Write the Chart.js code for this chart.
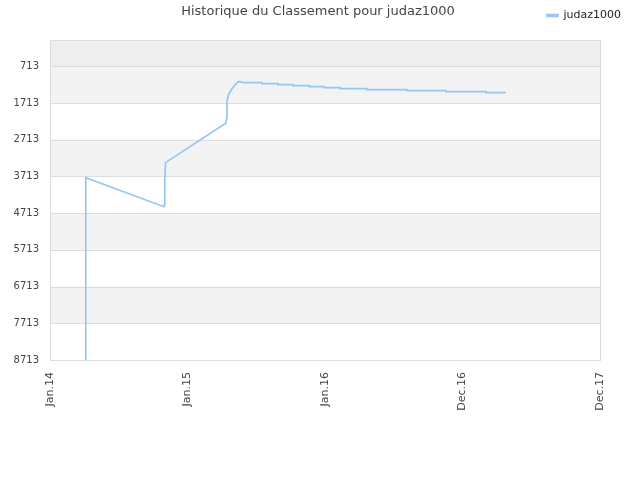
<!DOCTYPE html>
<html>
<head>
<meta charset="utf-8">
<script src="https://cdn.jsdelivr.net/npm/chart.js@4.4.0/dist/chart.umd.min.js"></script>
<style>
  html, body { margin: 0; padding: 0; background: #fff; }
  #wrap { width: 640px; height: 480px; }
</style>
</head>
<body>
<div id="wrap"><canvas id="grafico" width="640" height="480"></canvas></div>
<script>
// Datos del gráfico
var titre = 'Historique du Classement pour judaz1000';
var joueur = 'judaz1000';
var etiquettesX = ['Jan.14', 'Jan.15', 'Jan.16', 'Dec.16', 'Dec.17'];
var ticksY = [713, 1713, 2713, 3713, 4713, 5713, 6713, 7713, 8713];

// position sur l'axe des dates (0 = Jan.14, 1 = Jan.15, ...)
var dates = [0.26, 0.26, 0.829, 0.832, 0.835, 0.84, 1.278, 1.285, 1.287, 1.297, 1.321, 1.345, 1.37, 1.39,
    1.404, 1.542, 1.542, 1.658, 1.658, 1.767, 1.767, 1.884, 1.884, 1.993, 1.993, 2.109,
    2.109, 2.305, 2.305, 2.596, 2.596, 2.88, 2.88, 3.171, 3.171, 3.316];
var classement = [8713, 3748, 4539, 4480, 3800, 3339, 2266, 2130, 1677, 1495, 1340, 1222, 1133, 1140,
    1160, 1160, 1187, 1187, 1214, 1214, 1242, 1242, 1269, 1269, 1296, 1296,
    1323, 1323, 1351, 1351, 1378, 1378, 1405, 1405, 1432, 1432];

var points = dates.map(function(d, i) { return { x: d, y: classement[i] }; });

// fond en bandes + cadre
var bandes = {
    id: 'bandes',
    beforeDatasetsDraw: function(chart) {
        var ctx = chart.ctx, a = chart.chartArea, y = chart.scales.y;
        ctx.save();
        ctx.fillStyle = '#eeeeee';
        ctx.fillRect(a.left, a.top, a.right - a.left, y.getPixelForValue(ticksY[0]) - a.top);
        for (var i = 0; i < ticksY.length - 1; i++) {
            if (i % 2 === 0) {
                var y1 = y.getPixelForValue(ticksY[i]), y2 = y.getPixelForValue(ticksY[i + 1]);
                ctx.fillStyle = '#f3f3f3';
                ctx.fillRect(a.left, y1, a.right - a.left, y2 - y1);
            }
        }
        ctx.strokeStyle = '#dddddd';
        ctx.lineWidth = 1;
        for (var j = 0; j < ticksY.length; j++) {
            var py = Math.round(y.getPixelForValue(ticksY[j])) + 0.5;
            ctx.beginPath(); ctx.moveTo(a.left, py); ctx.lineTo(a.right, py); ctx.stroke();
        }
        ctx.strokeRect(Math.round(a.left) + 0.5, Math.round(a.top) + 0.5,
            Math.round(a.right - a.left), Math.round(a.bottom - a.top));
        ctx.restore();
    },
    afterDraw: function(chart) {
        var ctx = chart.ctx;
        ctx.save();
        ctx.font = '13px "DejaVu Sans"';
        ctx.fillStyle = '#444';
        ctx.textAlign = 'center';
        ctx.textBaseline = 'middle';
        ctx.fillText(titre, 318, 12);
        ctx.restore();
    },
    beforeInit: function(chart) {
        var fit = chart.legend.fit;
        chart.legend.fit = function() {
            fit.bind(chart.legend)();
            this.height += 9;
        };
    }
};

var ctx = document.getElementById('grafico').getContext('2d');
var grafico = new Chart(ctx, {
    type: 'line',
    data: {
        datasets: [{
            label: joueur,
            data: points,
            borderColor: '#95c6f4',
            backgroundColor: '#95c6f4',
            borderWidth: 1.7,
            pointRadius: 0,
            tension: 0,
            fill: false
        }]
    },
    options: {
        responsive: false,
        animation: false,
        layout: { padding: { left: 0, right: 9, top: 0, bottom: 60 } },
        plugins: {
            legend: {
                position: 'top',
                align: 'end',
                labels: {
                    boxWidth: 11,
                    boxHeight: 2,
                    color: '#222',
                    font: { family: 'DejaVu Sans', size: 11 }
                }
            },
            tooltip: { enabled: false }
        },
        scales: {
            x: {
                type: 'linear',
                min: 0,
                max: 4,
                afterBuildTicks: function(s) { s.ticks = etiquettesX.map(function(l, i) { return { value: i }; }); },
                afterFit: function(s) { s.height = 60; },
                grid: { display: false, drawTicks: false },
                border: { display: false },
                ticks: {
                    minRotation: 90,
                    maxRotation: 90,
                    padding: 12,
                    color: '#444',
                    font: { family: 'DejaVu Sans', size: 11 },
                    callback: function(v) { return etiquettesX[v]; }
                }
            },
            y: {
                reverse: true,
                min: 0,
                max: 8713,
                afterBuildTicks: function(s) { s.ticks = ticksY.map(function(v) { return { value: v }; }); },
                afterFit: function(s) { s.width = 50; },
                grid: { display: false, drawTicks: false },
                border: { display: false },
                ticks: {
                    padding: 11,
                    color: '#444',
                    font: { family: 'DejaVu Sans', size: 10 },
                    callback: function(v) { return v; }
                }
            },
            droite: {
                position: 'right',
                display: true,
                afterFit: function(s) { s.width = 31; },
                grid: { display: false, drawTicks: false },
                border: { display: false },
                ticks: { display: false }
            }
        }
    },
    plugins: [bandes]
});
</script>
</body>
</html>
